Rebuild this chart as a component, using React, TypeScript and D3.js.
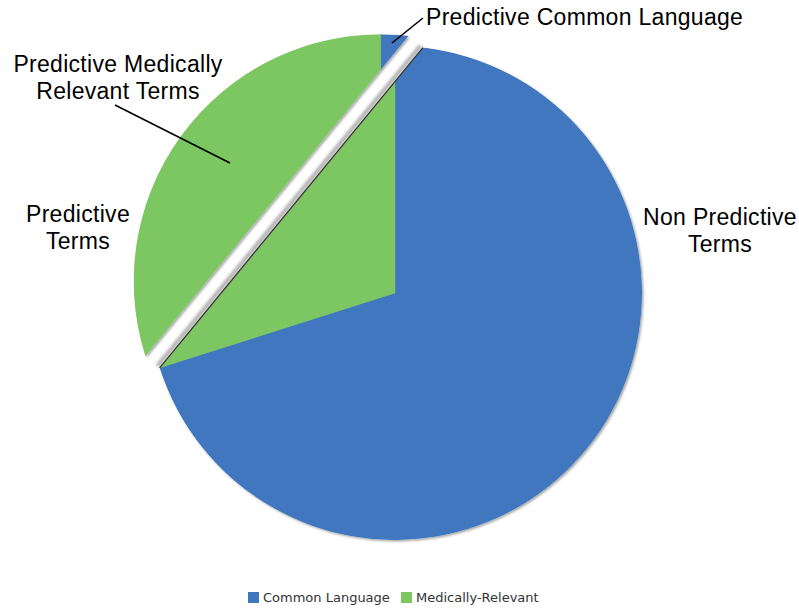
import React from 'react';
import * as d3 from 'd3';

// ---------- data ----------
const categories = ['Common Language', 'Medically-Relevant'];
const sliceValues = [70.1, 29.9];
// share (percent of the whole) of Common Language that falls in the cut-away "Predictive" piece
const predictiveCommonShare = 1.8;
const calloutLabels = [
  ['Predictive Common Language'],
  ['Predictive Medically', 'Relevant Terms'],
  ['Predictive', 'Terms'],
  ['Non Predictive', 'Terms'],
];

// ---------- styling / layout ----------
const W = 799;
const H = 609;
const colors = ['#3F77BF', '#7DC763'];
const cx = 395;
const cy = 293;
const R = 247;
const explode = 18.5;
const labelFont = '"Liberation Sans", Arial, sans-serif';
const labelSize = 23;
const calloutLayout = [
  { x: 426, y: 25, anchor: 'start', line: [392, 43, 423, 18] },
  { x: 118, y: 72, anchor: 'middle', line: [115, 105, 230, 163] },
  { x: 78, y: 222, anchor: 'middle', line: null },
  { x: 720, y: 225, anchor: 'middle', line: null },
];
const lineGap = 27;

export default function App() {
  const pie = d3.pie<number>().sort(null).value((d) => d);
  const arcs = pie(sliceValues);
  const arcGen = d3.arc<d3.PieArcDatum<number>>().innerRadius(0).outerRadius(R);

  const a1 = arcs[1].startAngle;
  const a2 = 2 * Math.PI + (predictiveCommonShare / 100) * 2 * Math.PI;
  const pt = (a: number) => [R * Math.sin(a), -R * Math.cos(a)];
  const P1 = pt(a1);
  const P2 = pt(a2);

  const mainPath = `M${P2[0]},${P2[1]}A${R},${R} 0 1 1 ${P1[0]},${P1[1]}Z`;
  const segPath = `M${P1[0]},${P1[1]}A${R},${R} 0 0 1 ${P2[0]},${P2[1]}Z`;

  const mx = (P1[0] + P2[0]) / 2;
  const my = (P1[1] + P2[1]) / 2;
  const ml = Math.hypot(mx, my);
  const nx = mx / ml;
  const ny = my / ml;
  const ox = nx * explode;
  const oy = ny * explode;

  const slices = (clipId: string) => (
    <g clipPath={`url(#${clipId})`}>
      {arcs.map((a, i) => (
        <path key={i} d={arcGen(a) || ''} fill={colors[i]} stroke={colors[i]} strokeWidth={0.5} />
      ))}
    </g>
  );

  const legendX = [248, 401];

  return (
    <svg
      width={W}
      height={H}
      style={{ position: 'absolute', left: 0, top: 0, background: '#fff' }}
    >
      <defs>
        <filter id="shadow" x="-10%" y="-10%" width="120%" height="120%">
          <feDropShadow dx="1.5" dy="1.5" stdDeviation="1.3" floodColor="#000" floodOpacity="0.35" />
        </filter>
        <filter id="blur" x="-10%" y="-10%" width="120%" height="120%">
          <feGaussianBlur stdDeviation="1.8" />
        </filter>
        <clipPath id="clipMain">
          <path d={mainPath} />
        </clipPath>
        <clipPath id="clipSeg">
          <path d={segPath} />
        </clipPath>
      </defs>

      <g transform={`translate(${cx},${cy})`}>
        {/* main piece */}
        <g filter="url(#shadow)">{slices('clipMain')}</g>
        {/* soft shadow along the cut */}
        <line
          x1={P1[0] + nx * 3}
          y1={P1[1] + ny * 3}
          x2={P2[0] + nx * 3}
          y2={P2[1] + ny * 3}
          stroke="#888"
          strokeWidth={4}
          filter="url(#blur)"
          opacity={0.7}
        />
        <line x1={P1[0]} y1={P1[1]} x2={P2[0]} y2={P2[1]} stroke="#333" strokeWidth={1.3} />
        {/* exploded piece */}
        <g transform={`translate(${ox},${oy})`}>
          <g filter="url(#shadow)">{slices('clipSeg')}</g>
        </g>
      </g>

      {/* callouts */}
      {calloutLabels.map((lines, i) => {
        const L = calloutLayout[i];
        return (
          <g key={i}>
            {L.line && (
              <line
                x1={L.line[0]}
                y1={L.line[1]}
                x2={L.line[2]}
                y2={L.line[3]}
                stroke="#000"
                strokeWidth={1.6}
              />
            )}
            <text
              x={L.x}
              y={L.y}
              textAnchor={L.anchor as any}
              fontFamily={labelFont}
              fontSize={labelSize}
              letterSpacing={0.3}
              fill="#000"
            >
              {lines.map((t, j) => (
                <tspan key={j} x={L.x} dy={j === 0 ? 0 : lineGap}>
                  {t}
                </tspan>
              ))}
            </text>
          </g>
        );
      })}

      {/* legend */}
      {categories.map((c, i) => (
        <g key={c}>
          <rect x={legendX[i]} y={592} width={11} height={11} fill={colors[i]} />
          <text
            x={legendX[i] + 15}
            y={602}
            fontFamily='"DejaVu Sans", Verdana, sans-serif'
            fontSize={13}
            fill="#333"
          >
            {c}
          </text>
        </g>
      ))}
    </svg>
  );
}
